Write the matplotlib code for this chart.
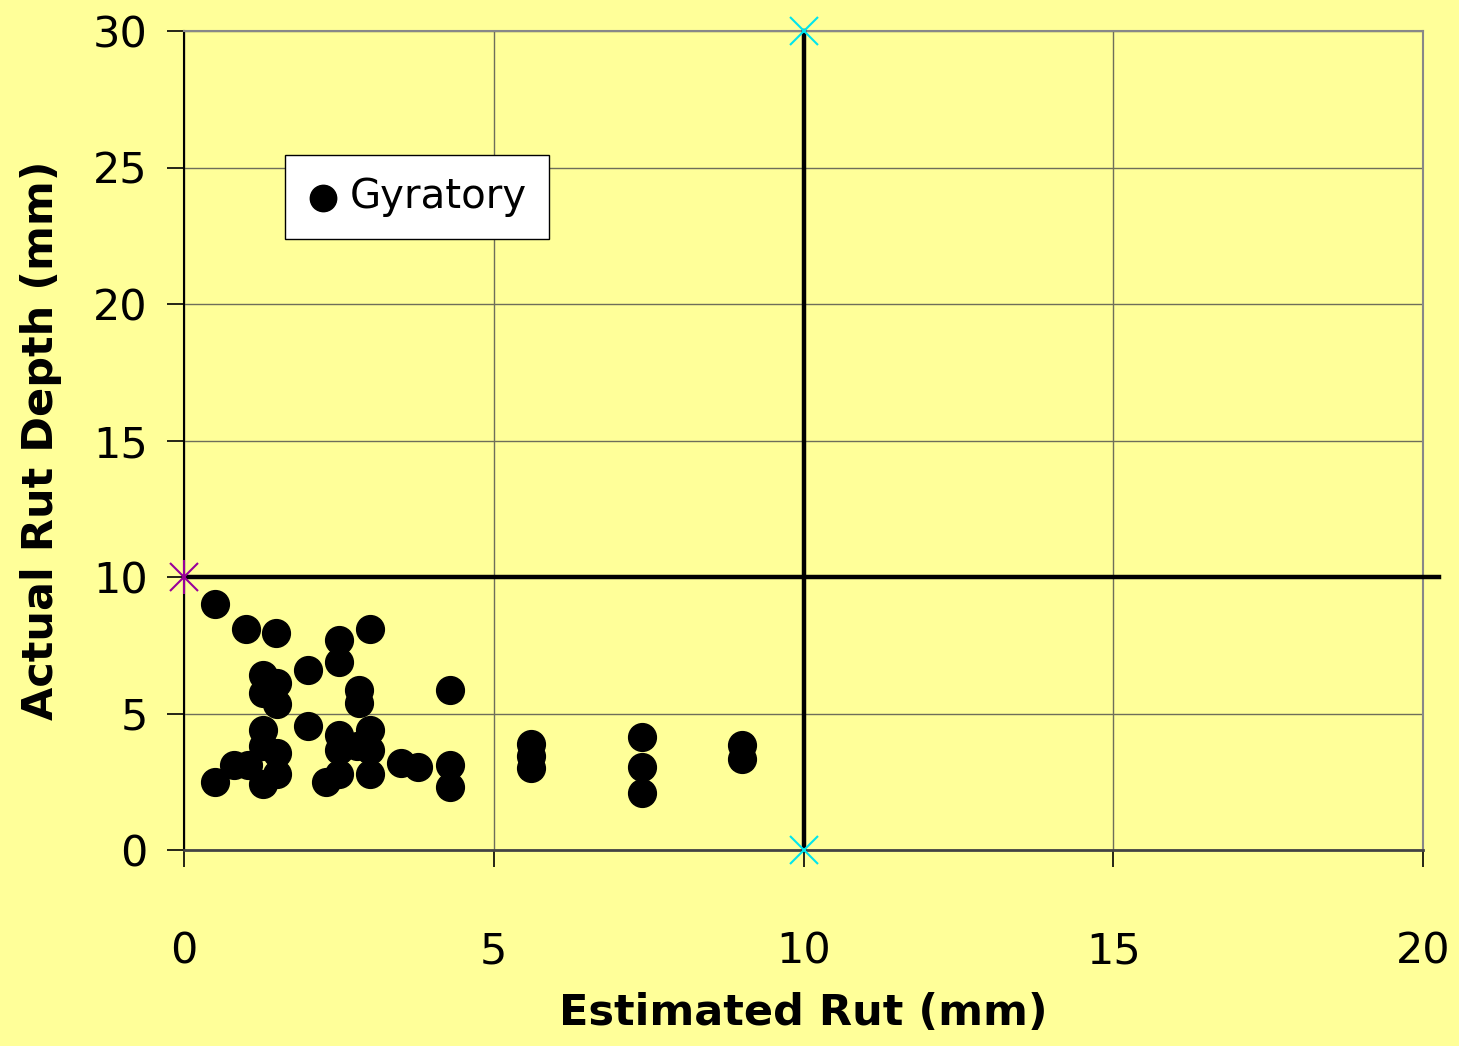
import matplotlib
matplotlib.use("Agg")
import matplotlib.pyplot as plt

# Data: estimated rut (x) and actual rut depth (y), in mm
est_rut = [0.5, 1.0, 1.48, 3.0, 2.5, 2.5, 2.0,
           1.28, 1.28, 1.5, 1.5, 2.82, 2.82, 4.3,
           2.0, 1.28, 1.28, 1.5, 1.5, 1.28, 0.5, 0.8, 1.03, 2.3,
           2.5, 2.5, 2.5, 2.8, 3.0, 3.0, 3.0,
           3.5, 3.78, 4.3, 4.3, 5.6, 5.6, 5.6,
           7.4, 7.4, 7.4, 9.0, 9.0]
act_rut = [9.0, 8.1, 7.95, 8.1, 7.7, 6.9, 6.6,
           6.4, 5.75, 6.1, 5.35, 5.85, 5.4, 5.85,
           4.55, 4.4, 3.8, 3.55, 2.8, 2.4, 2.5, 3.1, 3.1, 2.5,
           4.2, 3.65, 2.8, 3.8, 4.4, 3.65, 2.8,
           3.2, 3.05, 3.1, 2.3, 3.9, 3.45, 3.0,
           4.15, 3.05, 2.1, 3.85, 3.35]

series_label = "Gyratory"
x_ticks = [0, 5, 10, 15, 20]
y_ticks = [0, 5, 10, 15, 20, 25, 30]
x_label = "Estimated Rut (mm)"
y_label = "Actual Rut Depth (mm)"

# reference lines
vline_x = [10, 10]
vline_y = [0, 30]
hline_x = [0, 20.26]
hline_y = [10, 10]

bg = "#FFFF99"
fig = plt.figure(figsize=(14.59, 10.46), dpi=100, facecolor=bg)
ax = fig.add_axes([184/1459, 1-850/1046, (1423-184)/1459, (850-31)/1046])
ax.set_facecolor(bg)

ax.set_xlim(0, 20)
ax.set_ylim(0, 30)
ax.set_xticks(x_ticks)
ax.set_yticks(y_ticks)
ax.grid(True, color="#6e6e5a", linewidth=1.0)
ax.set_axisbelow(True)

for side in ["top", "right"]:
    ax.spines[side].set_color("#888888")
    ax.spines[side].set_linewidth(1.5)
ax.spines["left"].set_color("black")
ax.spines["left"].set_linewidth(1.5)
ax.spines["bottom"].set_color("#444444")
ax.spines["bottom"].set_linewidth(2.0)

ax.tick_params(axis="both", direction="out", length=12, width=1.2, labelsize=31)
ax.tick_params(axis="x", pad=46)
ax.tick_params(axis="y", pad=14)

# thick reference lines
ax.plot(hline_x, hline_y, color="black", linewidth=3.2, clip_on=False, zorder=3)
ax.plot(vline_x, vline_y, color="black", linewidth=3.2, clip_on=False, zorder=3)
ax.plot(vline_x, vline_y, linestyle="none", marker="x", markersize=20,
        markeredgewidth=1.5, color="#00E5EE", clip_on=False, zorder=4)
ax.plot([hline_x[0]], [hline_y[0]], linestyle="none", marker="x", markersize=20,
        markeredgewidth=1.5, color="#990099", clip_on=False, zorder=4)
ax.plot([hline_x[0]], [hline_y[0]], linestyle="none", marker="|", markersize=24,
        markeredgewidth=1.5, color="#990099", clip_on=False, zorder=4)

ax.scatter(est_rut, act_rut, s=20**2, color="black", label=series_label,
           zorder=5, clip_on=False)

leg = ax.legend(loc="upper left", bbox_to_anchor=((285-184)/1239, (850-155)/819),
                borderaxespad=0, fontsize=29, frameon=True, fancybox=False,
                edgecolor="black", framealpha=1, facecolor="white",
                handletextpad=0.25, borderpad=0.55, markerscale=0.95,
                handlelength=0.8)
leg.get_frame().set_linewidth(1.0)

ax.set_xlabel(x_label, fontsize=31, fontweight="bold", labelpad=14)
ax.set_ylabel(y_label, fontsize=31, fontweight="bold", labelpad=22)

fig.savefig("out.png", dpi=100, facecolor=bg)
